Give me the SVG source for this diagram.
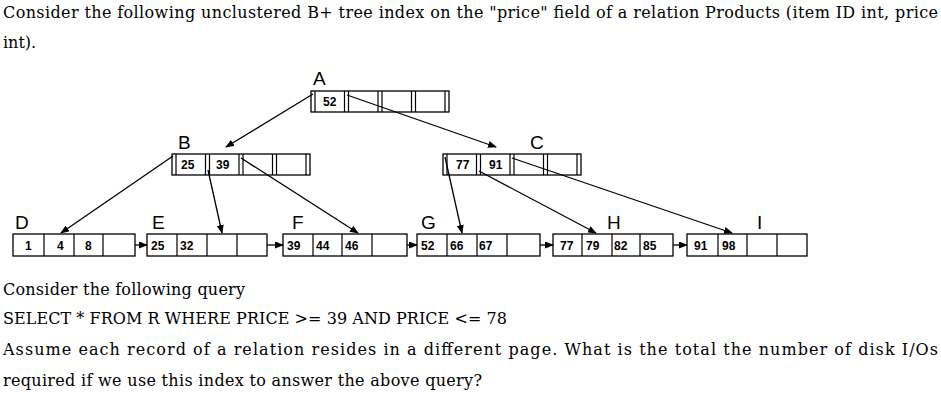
<svg xmlns="http://www.w3.org/2000/svg" width="941" height="406" viewBox="0 0 941 406">
<defs>
<style>
.t{font-family:"DejaVu Serif","Liberation Serif",serif;font-size:16px;fill:#000}
.lbl{font-family:"Liberation Sans",Arial,sans-serif;font-size:19px;fill:#000}
.n{font-family:"Liberation Sans",Arial,sans-serif;font-size:12px;font-weight:bold;fill:#000}
.box{fill:none;stroke:#000;stroke-width:1.3}
.div{stroke:#000;stroke-width:1.2}
.c{stroke:#000;stroke-width:1.3;fill:none;marker-end:url(#ah)}
</style>
<marker id="ah" markerUnits="userSpaceOnUse" markerWidth="9" markerHeight="7" refX="8" refY="3.5" orient="auto">
<path d="M0,0 L9,3.5 L0,7 Z" fill="#000"/>
</marker>
</defs>
<rect width="941" height="406" fill="#fff"/>
<text class="t" x="3" y="18" textLength="935" lengthAdjust="spacing">Consider the following unclustered B+ tree index on the "price" field of a relation Products (item ID int, price</text>
<text class="t" x="3" y="48">int).</text>

<g id="connectors">
<line class="c" x1="313" y1="94" x2="226" y2="147"/>
<line class="c" x1="347" y1="95" x2="496" y2="147"/>
<line class="c" x1="173" y1="156" x2="61" y2="233"/>
<line class="c" x1="208" y1="170" x2="222" y2="233"/>
<line class="c" x1="241" y1="158" x2="358" y2="233"/>
<line class="c" x1="445" y1="157" x2="462" y2="233"/>
<line class="c" x1="479" y1="171" x2="596" y2="233"/>
<line class="c" x1="512" y1="158" x2="732" y2="233"/>
<line class="c" x1="135" y1="245" x2="147" y2="245"/>
<line class="c" x1="267" y1="245" x2="283" y2="245"/>
<line class="c" x1="407" y1="245" x2="417" y2="245"/>
<line class="c" x1="540" y1="245" x2="553" y2="245"/>
<line class="c" x1="673" y1="245" x2="687" y2="245"/>
</g>

<g id="A">
<text class="lbl" x="313" y="85">A</text>
<rect class="box" x="311" y="91" width="138" height="21"/>
<path class="div" d="M315,91V112M344.5,91V112M348.5,91V112M378,91V112M382,91V112M411.5,91V112M415.5,91V112M445,91V112"/>
<text class="n" x="323" y="106">52</text>
</g>

<g id="B">
<text class="lbl" x="178" y="149">B</text>
<rect class="box" x="172" y="154" width="138" height="21"/>
<path class="div" d="M176,154V175M205.5,154V175M209.5,154V175M239,154V175M243,154V175M272.5,154V175M276.5,154V175M306,154V175"/>
<text class="n" x="181" y="169">25</text>
<text class="n" x="216" y="169">39</text>
</g>

<g id="C">
<text class="lbl" x="530" y="149">C</text>
<rect class="box" x="443" y="154" width="138" height="21"/>
<path class="div" d="M447,154V175M476.5,154V175M480.5,154V175M510,154V175M514,154V175M543.5,154V175M547.5,154V175M577,154V175"/>
<text class="n" x="456" y="169">77</text>
<text class="n" x="489" y="169">91</text>
</g>

<g id="D">
<text class="lbl" x="15" y="229">D</text>
<rect class="box" x="13" y="234" width="122" height="22"/>
<path class="div" d="M44,234V256M74,234V256M103,234V256"/>
<text class="n" x="25" y="249.5">1</text>
<text class="n" x="57" y="249.5">4</text>
<text class="n" x="85" y="249.5">8</text>
</g>

<g id="E">
<text class="lbl" x="152" y="229">E</text>
<rect class="box" x="147" y="234" width="120" height="22"/>
<path class="div" d="M177,234V256M207,234V256M237,234V256"/>
<text class="n" x="151" y="249.5">25</text>
<text class="n" x="180" y="249.5">32</text>
</g>

<g id="F">
<text class="lbl" x="292" y="229">F</text>
<rect class="box" x="283" y="234" width="124" height="22"/>
<path class="div" d="M313,234V256M342,234V256M372,234V256"/>
<text class="n" x="287" y="249.5">39</text>
<text class="n" x="316" y="249.5">44</text>
<text class="n" x="345" y="249.5">46</text>
</g>

<g id="G">
<text class="lbl" x="421" y="229">G</text>
<rect class="box" x="417" y="234" width="123" height="22"/>
<path class="div" d="M447,234V256M477,234V256M507,234V256"/>
<text class="n" x="421" y="249.5">52</text>
<text class="n" x="450" y="249.5">66</text>
<text class="n" x="479" y="249.5">67</text>
</g>

<g id="H">
<text class="lbl" x="607" y="229">H</text>
<rect class="box" x="553" y="234" width="120" height="22"/>
<path class="div" d="M582,234V256M612,234V256M640,234V256"/>
<text class="n" x="560" y="249.5">77</text>
<text class="n" x="586" y="249.5">79</text>
<text class="n" x="614" y="249.5">82</text>
<text class="n" x="643" y="249.5">85</text>
</g>

<g id="I">
<text class="lbl" x="757" y="229">I</text>
<rect class="box" x="687" y="234" width="120" height="22"/>
<path class="div" d="M718,234V256M747,234V256M777,234V256"/>
<text class="n" x="694" y="249.5">91</text>
<text class="n" x="722" y="249.5">98</text>
</g>

<text class="t" x="3" y="295" textLength="242" lengthAdjust="spacing">Consider the following query</text>
<text class="t" x="3" y="324" textLength="504" lengthAdjust="spacing">SELECT * FROM R WHERE PRICE &gt;= 39 AND PRICE &lt;= 78</text>
<text class="t" x="3" y="355" textLength="935" lengthAdjust="spacing">Assume each record of a relation resides in a different page. What is the total the number of disk I/Os</text>
<text class="t" x="3" y="386" textLength="479" lengthAdjust="spacing">required if we use this index to answer the above query?</text>
</svg>
